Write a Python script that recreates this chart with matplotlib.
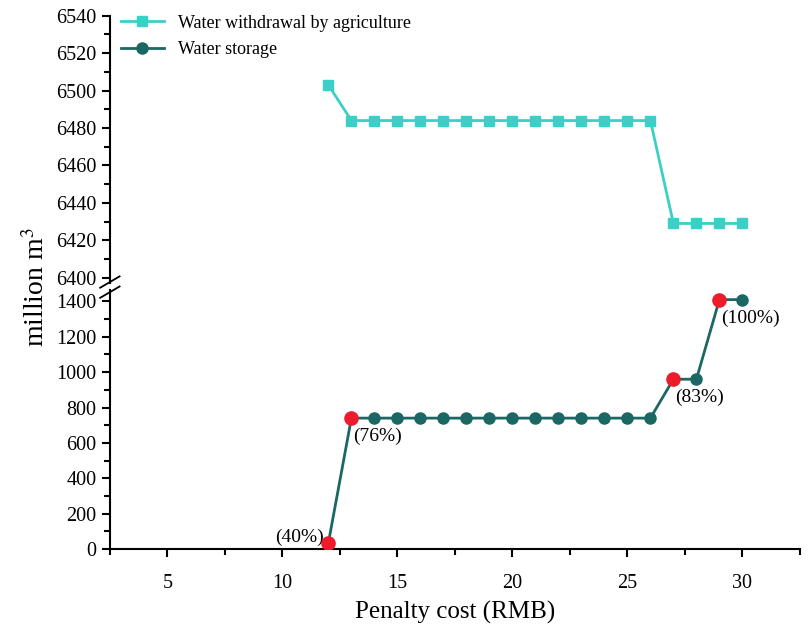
import matplotlib.pyplot as plt
import numpy as np

# data
penalty = [12, 13, 14, 15, 16, 17, 18, 19, 20, 21, 22, 23, 24, 25, 26, 27, 28, 29, 30]
withdrawal = [6503, 6484, 6484, 6484, 6484, 6484, 6484, 6484, 6484, 6484,
              6484, 6484, 6484, 6484, 6484, 6429, 6429, 6429, 6429]
storage = [35, 740, 740, 740, 740, 740, 740, 740, 740, 740,
           740, 740, 740, 740, 740, 960, 960, 1410, 1410]
red_x = [12, 13, 27, 29]
red_y = [35, 740, 960, 1410]
red_labels = ['(40%)', '(76%)', '(83%)', '(100%)']

c_light = '#3ccfc6'
c_dark = '#1b6763'
c_red = '#ee1c2b'

plt.rcParams['font.family'] = ['Liberation Serif', 'DejaVu Serif']
plt.rcParams['mathtext.fontset'] = 'stix'

fig = plt.figure(figsize=(8.08, 6.31), dpi=100)
ax_top = fig.add_axes([0.136, 0.551, 0.854, 0.424])
ax_bot = fig.add_axes([0.136, 0.130, 0.854, 0.410], sharex=ax_top)

ax_top.plot(penalty, withdrawal, color=c_light, marker='s', markersize=7, lw=2,
            label='Water withdrawal by agriculture')
ax_bot.plot(penalty, storage, color=c_dark, marker='o', markersize=8, lw=2,
            label='Water storage')
ax_bot.plot(red_x, red_y, 'o', color=c_red, markersize=9.5, zorder=5)

# percentage notes next to the red points
ax_bot.annotate(red_labels[0], (red_x[0], red_y[0]), xytext=(-3, -2),
                textcoords='offset points', ha='right', va='bottom', fontsize=14)
for xx, yy, lab in zip(red_x[1:], red_y[1:], red_labels[1:]):
    ax_bot.annotate(lab, (xx, yy), xytext=(1, -7), textcoords='offset points',
                    ha='left', va='top', fontsize=14)

ax_top.set_ylim(6397, 6540)
ax_bot.set_ylim(0, 1463)
ax_top.set_xlim(2.5, 32.5)

ax_top.set_yticks(np.arange(6400, 6541, 20))
ax_top.set_yticks(np.arange(6400, 6541, 10), minor=True)
ax_bot.set_yticks(np.arange(0, 1401, 200))
ax_bot.set_yticks(np.arange(0, 1401, 100), minor=True)
ax_bot.set_xticks([5, 10, 15, 20, 25, 30])
ax_bot.set_xticks(np.arange(2.5, 32.6, 2.5), minor=True)

for ax in (ax_top, ax_bot):
    ax.spines['top'].set_visible(False)
    ax.spines['right'].set_visible(False)
    ax.spines['left'].set_linewidth(1.5)
    ax.spines['bottom'].set_linewidth(1.5)
    ax.tick_params(axis='both', which='major', direction='out', length=6, width=1.5,
                   labelsize=14.5)
    ax.tick_params(axis='both', which='minor', direction='out', length=4, width=1.5)
ax_top.spines['bottom'].set_visible(False)
ax_top.tick_params(axis='x', which='both', bottom=False, labelbottom=False)
ax_bot.tick_params(axis='x', which='major', pad=12)

# break marks on the y axis
kw = dict(color='k', lw=1.3, clip_on=False, transform=fig.transFigure)
x0 = 0.136
fig.add_artist(plt.Line2D([x0 - 0.012, x0 + 0.012], [0.552 - 0.008, 0.552 + 0.010], **kw))
fig.add_artist(plt.Line2D([x0 - 0.012, x0 + 0.012], [0.536 - 0.008, 0.536 + 0.010], **kw))

h1, l1 = ax_top.get_legend_handles_labels()
h2, l2 = ax_bot.get_legend_handles_labels()
ax_top.legend(h1 + h2, l1 + l2, loc='upper left', bbox_to_anchor=(0.0, 1.045),
              frameon=False, fontsize=13, handlelength=2.4, labelspacing=0.55,
              borderaxespad=0.2)

ax_bot.set_xlabel('Penalty cost (RMB)', fontsize=18, labelpad=6)
fig.text(0.045, 0.545, 'million m$^3$', rotation=90, fontsize=20, ha='center', va='center')

fig.savefig('out.png', dpi=100)
